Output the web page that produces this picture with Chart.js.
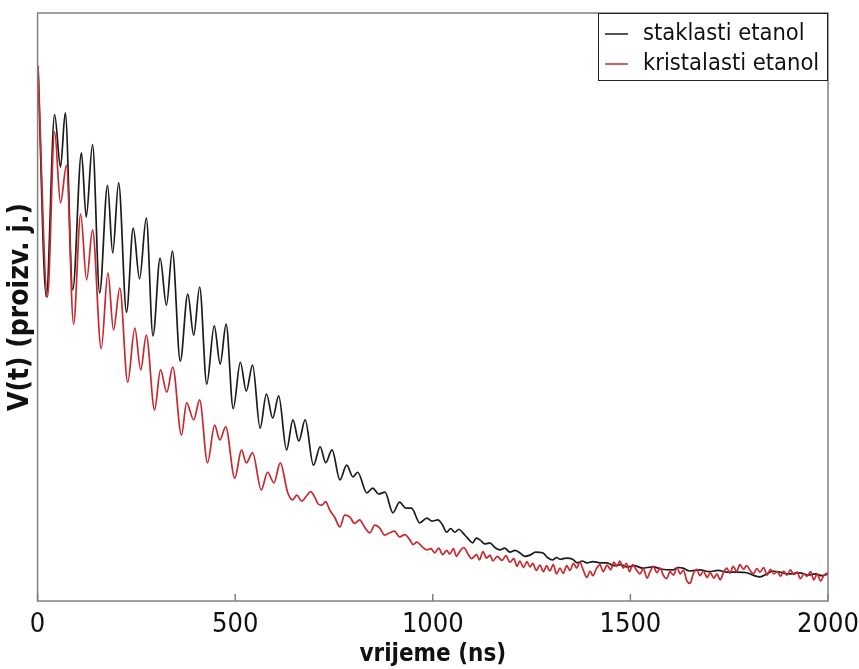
<!DOCTYPE html>
<html lang="hr">
<head>
<meta charset="UTF-8">
<title>V(t) - staklasti i kristalasti etanol</title>
<script src="https://cdn.jsdelivr.net/npm/chart.js"></script>
<style>
  body { margin: 0; background: #fff; }
  #wrap { width: 859px; height: 669px; }
</style>
</head>
<body>
<div id="wrap"><canvas id="chart" width="859" height="669"></canvas></div>
<script>
// staklasti etanol (crna krivulja), vrijeme u ns, V u proizvoljnim jedinicama
const timeGlass = [1, 22, 43, 58, 70, 89, 111, 123, 139, 157, 177, 190, 205, 225, 242, 258, 275, 292,
  310, 326, 341, 361, 380, 395, 410, 428, 447, 462, 477, 495, 513, 528, 544, 563, 579, 595, 610, 630,
  646, 661, 677, 698, 715, 729, 745, 765, 782, 798, 810, 833, 848, 863, 879, 899, 916, 932, 946, 967,
  985, 998, 1013, 1024, 1035, 1045, 1056, 1066, 1076, 1088, 1101, 1110, 1119, 1132, 1144, 1157, 1170,
  1182, 1195, 1208, 1220, 1233, 1246, 1260, 1278, 1290, 1304, 1313, 1322, 1338, 1354, 1365, 1378,
  1390, 1405, 1423, 1441, 1458, 1475, 1491, 1510, 1530, 1557, 1580, 1608, 1620, 1633, 1650, 1676,
  1700, 1722, 1744, 1770, 1795, 1810, 1828, 1845, 1860, 1878, 1900, 1929, 1950, 1967, 1985, 2000];
const valueGlass = [91.0, 51.7, 82.7, 73.8, 83.0, 52.9, 76.2, 65.3, 77.6, 52.4, 70.7, 59.2, 71.1, 49.1,
  63.4, 54.8, 65.1, 45.1, 58.3, 50.3, 59.5, 40.8, 52.2, 45.2, 53.4, 36.9, 46.8, 40.3, 47.1, 32.7, 40.6,
  35.7, 40.1, 29.4, 35.2, 31.1, 34.9, 25.7, 30.8, 27.2, 30.8, 23.1, 26.2, 23.5, 25.7, 20.6, 23.1, 21.1,
  21.9, 18.4, 19.2, 18.2, 18.5, 15.0, 16.8, 15.8, 15.8, 13.3, 14.1, 13.6, 13.8, 13.0, 11.7, 12.3, 11.7,
  12.2, 11.6, 10.7, 9.9, 10.7, 10.4, 9.7, 9.9, 9.1, 8.7, 9.0, 8.3, 8.6, 8.2, 7.6, 7.8, 8.3, 8.2, 7.4,
  7.0, 7.4, 7.1, 7.3, 7.1, 6.5, 6.8, 6.5, 6.7, 6.5, 6.5, 6.0, 6.2, 5.8, 6.0, 5.6, 5.8, 5.4, 5.3, 5.7,
  5.6, 5.1, 5.3, 5.0, 5.2, 4.9, 4.9, 4.8, 4.4, 4.1, 4.6, 5.1, 4.9, 4.6, 4.8, 4.4, 4.6, 4.3, 4.6];

// kristalasti etanol (crvena krivulja)
const timeCryst = [1, 25, 43, 58, 73, 91, 109, 124, 139, 161, 178, 192, 208, 228, 246, 261, 275, 296,
  311, 327, 342, 364, 377, 395, 410, 430, 448, 461, 476, 499, 516, 528, 544, 566, 582, 598, 614, 633,
  645, 656, 668, 681, 691, 701, 710, 719, 729, 739, 752, 765, 777, 790, 802, 815, 828, 841, 853, 866,
  878, 891, 903, 916, 929, 942, 950, 960, 972, 985, 995, 1005, 1015, 1025, 1035, 1043, 1052, 1060,
  1068, 1078, 1089, 1098, 1111, 1118, 1127, 1136, 1145, 1152, 1163, 1175, 1185, 1195, 1205, 1213,
  1220, 1230, 1238, 1246, 1253, 1262, 1271, 1280, 1288, 1296, 1305, 1313, 1322, 1330, 1339, 1347,
  1356, 1364, 1372, 1381, 1390, 1398, 1405, 1414, 1423, 1431, 1441, 1450, 1458, 1466, 1473, 1482,
  1490, 1498, 1506, 1515, 1524, 1533, 1542, 1550, 1558, 1567, 1575, 1584, 1592, 1600, 1609, 1618,
  1626, 1634, 1643, 1651, 1659, 1668, 1676, 1685, 1694, 1702, 1711, 1719, 1727, 1736, 1744, 1752,
  1760, 1769, 1777, 1786, 1794, 1803, 1811, 1820, 1828, 1837, 1846, 1854, 1863, 1871, 1880, 1888,
  1896, 1905, 1913, 1922, 1930, 1939, 1947, 1956, 1964, 1973, 1981, 1990, 2000];
const valueCryst = [91.0, 51.7, 79.8, 67.7, 74.1, 47.1, 65.8, 54.6, 63.1, 42.9, 55.8, 46.1, 53.2, 37.2,
  46.4, 39.3, 45.2, 32.5, 39.3, 35.5, 39.8, 28.2, 33.7, 30.8, 34.2, 23.5, 29.9, 27.4, 29.6, 20.9, 25.7,
  23.5, 25.2, 18.9, 21.9, 20.1, 23.5, 18.4, 17.2, 18.0, 17.0, 17.9, 18.6, 17.7, 16.5, 16.3, 16.9, 15.5,
  14.2, 12.6, 14.6, 14.3, 13.2, 13.8, 12.5, 11.6, 12.9, 12.4, 11.2, 11.6, 11.9, 10.9, 11.3, 10.4, 9.6,
  10.0, 9.3, 8.7, 8.9, 8.2, 9.0, 7.9, 8.6, 8.0, 8.9, 7.6, 8.4, 9.1, 8.0, 7.2, 7.9, 7.0, 8.4, 7.3, 7.8,
  6.8, 7.6, 6.9, 7.7, 6.6, 7.2, 5.9, 6.8, 5.7, 6.7, 5.8, 6.4, 5.2, 6.1, 5.0, 6.0, 5.1, 6.2, 4.6, 5.6,
  4.7, 6.0, 5.2, 6.4, 5.6, 6.6, 5.2, 4.0, 5.1, 4.3, 5.5, 6.2, 5.0, 6.1, 5.3, 6.6, 5.9, 6.8, 5.6, 6.4,
  5.0, 6.2, 5.3, 4.6, 5.5, 3.9, 5.0, 5.9, 4.8, 5.6, 4.3, 3.8, 5.0, 4.4, 5.7, 4.6, 5.2, 3.4, 3.0, 4.6,
  5.4, 4.3, 5.1, 4.0, 4.8, 3.9, 4.6, 3.6, 4.9, 5.6, 4.7, 5.9, 5.0, 6.2, 5.4, 6.0, 5.2, 4.6, 5.5, 4.9,
  5.7, 4.4, 5.4, 4.6, 5.0, 4.2, 5.1, 4.4, 5.3, 4.5, 4.9, 3.8, 4.6, 4.2, 5.0, 3.6, 4.6, 3.4, 4.4, 4.8];

const seriesLabels = ['staklasti etanol', 'kristalasti etanol'];
const seriesColors = ['#1c1c1c', '#c9282e'];
const xTicks = [0, 500, 1000, 1500, 2000];

const FONT = '"DejaVu Sans Condensed", "DejaVu Sans", sans-serif';

function toPoints(xs, ys) {
  return xs.map((x, i) => ({ x: x, y: ys[i] }));
}

// okvir, unutarnje oznake na x osi i legenda u gornjem desnom kutu
const framePlugin = {
  id: 'frame',
  afterDraw(chart) {
    const ctx = chart.ctx;
    const a = chart.chartArea;
    const xs = chart.scales.x;
    ctx.save();
    ctx.strokeStyle = '#808080';
    ctx.lineWidth = 1.5;
    ctx.strokeRect(a.left, a.top, a.right - a.left, a.bottom - a.top);
    ctx.beginPath();
    xTicks.forEach(v => {
      const px = xs.getPixelForValue(v);
      ctx.moveTo(px, a.bottom);
      ctx.lineTo(px, a.bottom - 7);
    });
    ctx.stroke();

    // legenda
    const w = 230, h = 68;
    const left = a.right - w, top = a.top;
    ctx.fillStyle = '#fff';
    ctx.fillRect(left, top, w, h);
    ctx.strokeStyle = '#222';
    ctx.lineWidth = 1;
    ctx.strokeRect(left + 0.5, top + 0.5, w - 1, h - 1);
    ctx.font = '23.5px ' + FONT;
    ctx.textBaseline = 'middle';
    chart.data.datasets.forEach((ds, i) => {
      const y = top + 21 + i * 30;
      ctx.strokeStyle = ds.borderColor;
      ctx.lineWidth = 1.5;
      ctx.beginPath();
      ctx.moveTo(left + 7, y);
      ctx.lineTo(left + 30, y);
      ctx.stroke();
      ctx.fillStyle = '#111';
      ctx.fillText(ds.label, left + 45, y);
    });
    ctx.restore();
  }
};

new Chart(document.getElementById('chart'), {
  type: 'line',
  data: {
    datasets: [
      {
        label: seriesLabels[0],
        data: toPoints(timeGlass, valueGlass),
        borderColor: seriesColors[0],
        borderWidth: 1.7,
        pointRadius: 0,
        cubicInterpolationMode: 'monotone',
        order: 2
      },
      {
        label: seriesLabels[1],
        data: toPoints(timeCryst, valueCryst),
        borderColor: seriesColors[1],
        borderWidth: 1.7,
        pointRadius: 0,
        cubicInterpolationMode: 'monotone',
        order: 1
      }
    ]
  },
  options: {
    responsive: false,
    animation: false,
    layout: { padding: { left: 4, right: 31, top: 13, bottom: 1 } },
    plugins: {
      legend: { display: false },
      tooltip: { enabled: false }
    },
    scales: {
      x: {
        type: 'linear',
        min: 0,
        max: 2000,
        afterBuildTicks: scale => { scale.ticks = xTicks.map(v => ({ value: v })); },
        afterFit: scale => {
          scale.paddingLeft = 0;
          scale.paddingRight = 0;
          scale.height = 67;
        },
        grid: { display: false, drawTicks: false },
        border: { display: false },
        ticks: {
          padding: 8,
          color: '#111',
          font: { family: FONT, size: 27 },
          maxRotation: 0,
          callback: v => String(v)
        },
        title: {
          display: true,
          text: 'vrijeme (ns)',
          color: '#111',
          padding: { top: 0, bottom: 0 },
          font: { family: FONT, size: 24, weight: 'bold', lineHeight: 1.1 }
        }
      },
      y: {
        min: 0,
        max: 100,
        grid: { display: false, drawTicks: false },
        border: { display: false },
        ticks: { display: false },
        title: {
          display: true,
          text: 'V(t) (proizv. j.)',
          color: '#111',
          padding: { top: 0, bottom: 0 },
          font: { family: FONT, size: 28, weight: 'bold' }
        }
      }
    }
  },
  plugins: [framePlugin]
});
</script>
</body>
</html>
